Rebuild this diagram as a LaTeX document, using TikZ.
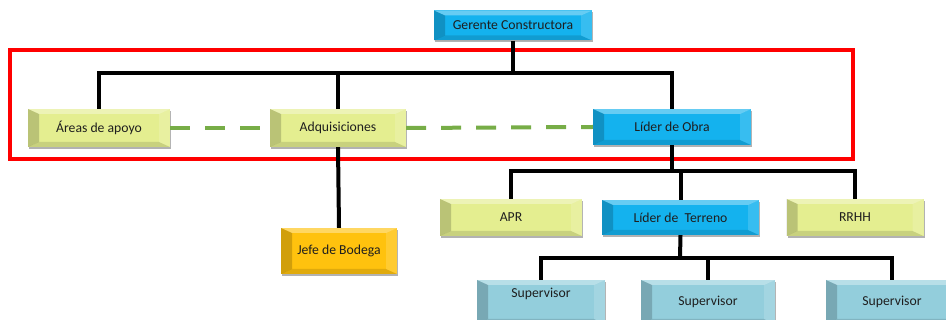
\documentclass[tikz,border=0pt]{standalone}
\usepackage{fontspec}
\setmainfont{Carlito}
\usetikzlibrary{shadows}
\usetikzlibrary{positioning}
\definecolor{boxblue}{HTML}{14B2EE}
\definecolor{boxyellow}{HTML}{E4EE90}
\definecolor{boxgold}{HTML}{FFC20E}
\definecolor{boxteal}{HTML}{93CEDC}
\definecolor{dashgreen}{HTML}{77AD47}
\definecolor{textgrey}{HTML}{1E1E1E}
\newcommand{\orgfont}{\fontsize{13.7}{16}\selectfont}
\tikzset{orgbox/.style = {inner sep = 0, font = \orgfont, text = textgrey,
                          drop shadow = {shadow xshift = 1pt, shadow yshift = -2pt,
                                         opacity = 0.3, fill = black},
                          path picture = {
                            \coordinate (nw) at (path picture bounding box.north west);
                            \coordinate (ne) at (path picture bounding box.north east);
                            \coordinate (sw) at (path picture bounding box.south west);
                            \coordinate (se) at (path picture bounding box.south east);
                            \fill [white, opacity = 0.35] (nw) -- (ne) -- ([xshift = -11pt, yshift = -5pt] ne)
                                  -- ([xshift = 11pt, yshift = -5pt] nw) -- cycle;
                            \fill [black, opacity = 0.12] (sw) -- (se) -- ([xshift = -11pt, yshift = 5pt] se)
                                  -- ([xshift = 11pt, yshift = 5pt] sw) -- cycle;
                            \fill [black, opacity = 0.18] (nw) -- ([xshift = 11pt, yshift = -5pt] nw)
                                  -- ([xshift = 11pt, yshift = 5pt] sw) -- (sw) -- cycle;
                            \fill [white, opacity = 0.15] (ne) -- ([xshift = -11pt, yshift = -5pt] ne)
                                  -- ([xshift = -11pt, yshift = 5pt] se) -- (se) -- cycle;}}}
\tikzset{blue/.style = {orgbox, fill = boxblue}}
\tikzset{yellow/.style = {orgbox, fill = boxyellow}}
\tikzset{gold/.style = {orgbox, fill = boxgold}}
\tikzset{teal/.style = {orgbox, fill = boxteal}}
\tikzset{link/.style = {line width = 4pt, black}}
\tikzset{helper/.style = {line width = 4pt, dashgreen, dash pattern = on 20pt off 15pt}}

\begin{document}
\begin{tikzpicture}[x = 1pt, y = -1pt]
    \useasboundingbox (0, 0) rectangle (946, 320);
    \draw [red, line width = 4.5pt] (10, 50) rectangle (853, 159);

    \node [blue, minimum width = 158, minimum height = 30] (ger) at (513, 25.5) {Gerente Constructora};
    \node [yellow, minimum width = 142, minimum height = 38] (are) at (99, 128) {Áreas de apoyo};
    \node [yellow, minimum width = 136, minimum height = 38] (adq) at (338, 128) {Adquisiciones};
    \node [blue, minimum width = 158, minimum height = 36] (obr) at (672, 127) {Líder de Obra};
    \node [gold, minimum width = 116, minimum height = 46] (jef) at (339, 251) {Jefe de Bodega};
    \node [yellow, minimum width = 142, minimum height = 37] (apr) at (511, 217.5) {APR};
    \node [blue, minimum width = 157, minimum height = 35] (ter) at (680.5, 217.5) {Líder de~ Terreno};
    \node [yellow, minimum width = 137, minimum height = 37] (rrh) at (855, 217.5) {RRHH};
    \node [teal, minimum width = 128, minimum height = 44, text depth = 18pt] (su1) at (541, 302) {Supervisor};
    \node [teal, minimum width = 134, minimum height = 44] (su2) at (708, 302) {Supervisor};
    \node [teal, minimum width = 132, minimum height = 44] (su3) at (892, 302) {Supervisor};

    \coordinate (b1) at (513, 73);
    \coordinate (b2) at (672, 171);
    \coordinate (b3) at (680, 258);

    \draw [link] (ger.south) -- (b1);
    \draw [link] (are.north) |- (b1) -| (obr.north);
    \draw [link] (adq.north) -- (adq.north |- b1);
    \draw [link] (adq.south) -- (jef.north);
    \draw [link] (obr.south) -- (b2);
    \draw [link] (apr.north) |- (b2) -| (rrh.north);
    \draw [link] (ter.north) -- (ter.north |- b2);
    \draw [link] (ter.south) -- (b3);
    \draw [link] (su1.north) |- (b3) -| (su3.north);
    \draw [link] (su2.north) -- (su2.north |- b3);

    \draw [helper] (are.east) -- (adq.west);
    \draw [helper] (adq.east) -- (obr.west);
  \end{tikzpicture}
\end{document}
